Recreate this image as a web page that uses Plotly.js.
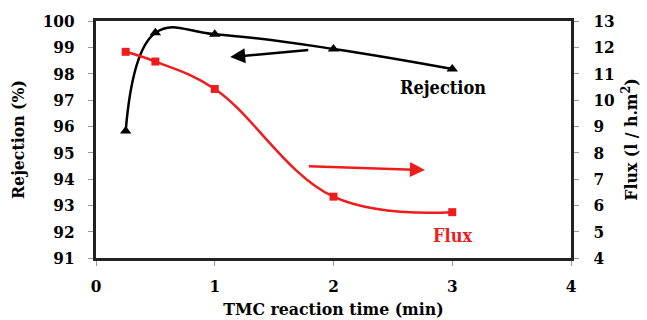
<!DOCTYPE html>
<html><head><meta charset="utf-8">
<script src="https://cdn.plot.ly/plotly-3.0.1.min.js"></script>
<style>html,body{margin:0;padding:0;background:#fff}#c{width:647px;height:320px}</style>
</head><body><div id="c"></div>
<script>
const time = [0.25, 0.5, 1, 2, 3];
const rejection = [95.82, 99.55, 99.5, 98.94, 98.18];
const flux = [11.83, 11.46, 10.42, 6.33, 5.74];
const xTicks = [0, 1, 2, 3, 4];
const leftTicks = [91, 92, 93, 94, 95, 96, 97, 98, 99, 100];
const rightTicks = [4, 5, 6, 7, 8, 9, 10, 11, 12, 13];

const F = 'DejaVu Serif Condensed, DejaVu Serif';
const tickFont = {family: F, size: 17, color: '#000', weight: 'bold'};
const titleFont = {family: F, size: 17.5, color: '#000', weight: 'bold'};

const traces = [
  {x: time, y: rejection, type: 'scatter', mode: 'lines+markers', name: 'Rejection',
   line: {color: '#000', width: 2.5, shape: 'spline', smoothing: 1.2},
   marker: {symbol: 'triangle-up', size: 10, color: '#000'}},
  {x: time, y: flux, type: 'scatter', mode: 'lines+markers', name: 'Flux', yaxis: 'y2',
   line: {color: '#ee1c1c', width: 2.5, shape: 'spline', smoothing: 1.1},
   marker: {symbol: 'square', size: 8, color: '#ee1c1c'}}
];

const layout = {
  width: 647, height: 320, showlegend: false,
  paper_bgcolor: '#fff', plot_bgcolor: '#fff',
  margin: {l: 96, r: 76, t: 21, b: 62},
  xaxis: {range: [0, 4], tickvals: xTicks, ticktext: xTicks.map(String),
    showgrid: false, zeroline: false, showline: true, linecolor: '#222', linewidth: 3, mirror: true,
    ticks: 'outside', ticklen: 5, tickcolor: '#999', tickfont: tickFont, ticklabelstandoff: 6,
    title: {text: 'TMC reaction time (min)', font: titleFont, standoff: 8}},
  yaxis: {range: [91, 100], tickvals: leftTicks, ticktext: leftTicks.map(String),
    showgrid: false, zeroline: false, showline: true, linecolor: '#222', linewidth: 3, mirror: true,
    ticks: 'outside', ticklen: 5, tickcolor: '#999', tickfont: tickFont, ticklabelstandoff: 10,
    title: {text: 'Rejection (%)', font: titleFont, standoff: 14}},
  yaxis2: {range: [4, 13], tickvals: rightTicks, ticktext: rightTicks.map(String),
    overlaying: 'y', side: 'right', showgrid: false, zeroline: false,
    showline: true, linecolor: '#222', linewidth: 3,
    ticks: 'outside', ticklen: 5, tickcolor: '#999', tickfont: tickFont, ticklabelstandoff: 11,
    title: {text: 'Flux (l / h.m<sup>2</sup>)', font: titleFont, standoff: 12}},
  annotations: [
    {x: 1.13, y: 98.63, ax: 1.80, ay: 98.9, xref: 'x', yref: 'y', axref: 'x', ayref: 'y',
     showarrow: true, arrowhead: 2, arrowsize: 1.2, arrowwidth: 2.5, arrowcolor: '#000', text: ''},
    {x: 2.77, y: 94.34, ax: 1.78, ay: 94.49, xref: 'x', yref: 'y', axref: 'x', ayref: 'y',
     showarrow: true, arrowhead: 2, arrowsize: 1.2, arrowwidth: 2.5, arrowcolor: '#ee1c1c', text: ''},
    {x: 2.92, y: 97.46, xref: 'x', yref: 'y', showarrow: false, text: 'Rejection',
     font: {family: F, size: 18, color: '#000', weight: 'bold'}},
    {x: 3.0, y: 91.84, xref: 'x', yref: 'y', showarrow: false, text: 'Flux',
     font: {family: F, size: 18, color: '#ee1c1c', weight: 'bold'}}
  ]
};
Plotly.newPlot('c', traces, layout, {staticPlot: true, displayModeBar: false});
</script></body></html>
